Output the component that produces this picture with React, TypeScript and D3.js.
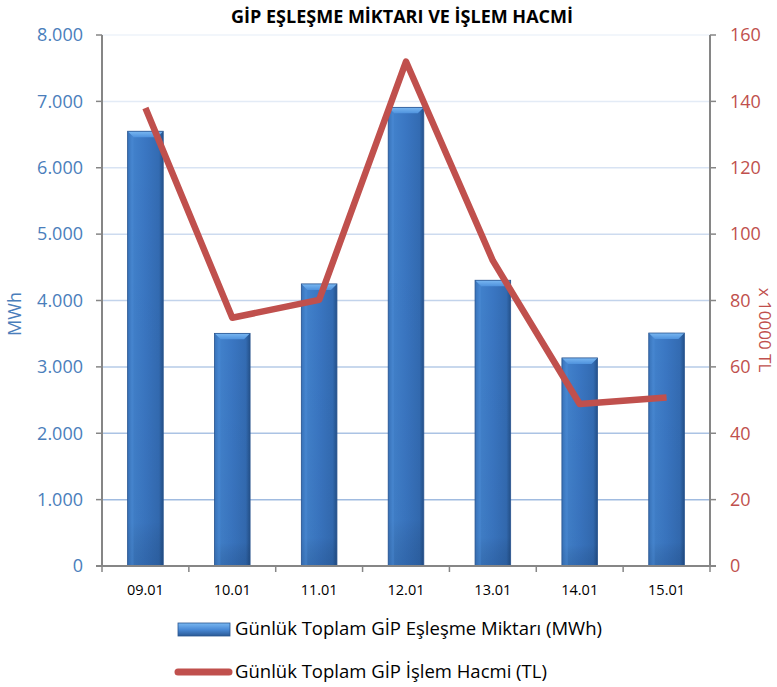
import React from "react";
import * as d3 from "d3";

const categories = ["09.01", "10.01", "11.01", "12.01", "13.01", "14.01", "15.01"];
const matchedMWh = [6550, 3505, 4250, 6910, 4305, 3135, 3510];
const volumeTL = [138, 74.8, 80.2, 152, 92, 48.8, 50.8];
const leftTicks = [0, 1000, 2000, 3000, 4000, 5000, 6000, 7000, 8000];
const rightTicks = [0, 20, 40, 60, 80, 100, 120, 140, 160];
const title = "GİP EŞLEŞME MİKTARI VE İŞLEM HACMİ";
const legendBar = "Günlük Toplam GİP Eşleşme Miktarı (MWh)";
const legendLine = "Günlük Toplam GİP İşlem Hacmi (TL)";

const W = 777, H = 687;
const left = 102, right = 710, top = 35, bottom = 566;
const FONT = "'Open Sans', Lato, sans-serif";
const BLUE_TXT = "#4a7ebb";
const RED = "#c0504d";
const AXIS = "#868686";

export default function App() {
  const x = d3.scaleBand<string>().domain(categories).range([left, right]).paddingInner(0.59).paddingOuter(0.295);
  const xc = d3.scaleBand<string>().domain(categories).range([left, right]);
  const yL = d3.scaleLinear().domain([0, 8000]).range([bottom, top]);
  const yR = d3.scaleLinear().domain([0, 160]).range([bottom, top]);
  const fmt = (v: number) => (v === 0 ? "0" : d3.format(",")(v).replace(/,/g, "."));
  const line = d3.line<number>().x((_, i) => xc(categories[i])! + xc.bandwidth() / 2).y((d) => yR(d));
  const gridColor = d3.interpolateRgb("#eef3fa", "#95b3dc");
  const bw = x.bandwidth();
  const bev = 6;

  return (
    <svg width={W} height={H} style={{ position: "absolute", left: 0, top: 0, background: "#fff" }}>
      <defs>
        <linearGradient id="barBody" x1="0" x2="1" y1="0" y2="0">
          <stop offset="0" stopColor="#2d64a8" />
          <stop offset="0.12" stopColor="#4282cc" />
          <stop offset="0.5" stopColor="#3a76c2" />
          <stop offset="0.88" stopColor="#336bb2" />
          <stop offset="1" stopColor="#24518a" />
        </linearGradient>
        <linearGradient id="barTop" x1="0" x2="0" y1="0" y2="1">
          <stop offset="0" stopColor="#7ab8f2" />
          <stop offset="1" stopColor="#4f92dd" />
        </linearGradient>
        <linearGradient id="barShade" x1="0" x2="0" y1="0" y2="1">
          <stop offset="0" stopColor="#000" stopOpacity="0" />
          <stop offset="0.9" stopColor="#000" stopOpacity="0.03" />
          <stop offset="1" stopColor="#0b2a55" stopOpacity="0.2" />
        </linearGradient>
        <linearGradient id="legBar" x1="0" x2="0" y1="0" y2="1">
          <stop offset="0" stopColor="#7ab8f2" />
          <stop offset="0.5" stopColor="#4a8ad6" />
          <stop offset="1" stopColor="#2a5a96" />
        </linearGradient>
      </defs>

      <text x={402} y={23} textAnchor="middle" fontFamily={FONT} fontWeight="bold" fontSize={18} fill="#000">
        {title}
      </text>

      {leftTicks.slice(1).map((t) => (
        <line key={"g" + t} x1={left} x2={right} y1={yL(t)} y2={yL(t)} stroke={gridColor(1 - t / 8000)} strokeWidth={1.5} />
      ))}

      {categories.map((c, i) => {
        const x0 = x(c)!;
        const y0 = yL(matchedMWh[i]);
        const h = bottom - y0;
        return (
          <g key={c}>
            <rect x={x0} y={y0} width={bw} height={h} fill="url(#barBody)" />
            <rect x={x0} y={y0} width={bw} height={h} fill="url(#barShade)" />
            <polygon
              points={`${x0},${y0} ${x0 + bw},${y0} ${x0 + bw - bev},${y0 + bev} ${x0 + bev},${y0 + bev}`}
              fill="url(#barTop)"
            />
            <polygon
              points={`${x0},${y0} ${x0 + bev},${y0 + bev} ${x0 + bev},${bottom} ${x0},${bottom}`}
              fill="#4d8cd8"
              opacity={0.35}
            />
            <rect x={x0} y={y0} width={bw} height={h} fill="none" stroke="#2a5590" strokeWidth={0.8} />
          </g>
        );
      })}

      <path d={line(volumeTL) || ""} fill="none" stroke={RED} strokeWidth={6.5} strokeLinejoin="round" strokeLinecap="butt" />

      {/* axes */}
      <line x1={left} x2={left} y1={top} y2={bottom} stroke={AXIS} strokeWidth={2} />
      <line x1={right} x2={right} y1={top} y2={bottom} stroke={AXIS} strokeWidth={2} />
      <line x1={left - 6} x2={right + 6} y1={bottom} y2={bottom} stroke={AXIS} strokeWidth={2} />
      {leftTicks.map((t) => (
        <g key={"l" + t}>
          <line x1={left - 6} x2={left} y1={yL(t)} y2={yL(t)} stroke={AXIS} strokeWidth={1.5} />
          <text x={83} y={yL(t)} dy="0.35em" textAnchor="end" fontFamily={FONT} fontSize={18} fill={BLUE_TXT}>
            {fmt(t)}
          </text>
        </g>
      ))}
      {rightTicks.map((t) => (
        <g key={"r" + t}>
          <line x1={right} x2={right + 6} y1={yR(t)} y2={yR(t)} stroke={AXIS} strokeWidth={1.5} />
          <text x={730} y={yR(t)} dy="0.35em" textAnchor="start" fontFamily={FONT} fontSize={18} fill={RED}>
            {t}
          </text>
        </g>
      ))}
      {categories.map((c, i) => (
        <g key={"x" + c}>
          <line x1={xc(c)!} x2={xc(c)!} y1={bottom} y2={bottom + 6} stroke={AXIS} strokeWidth={1.5} />
          <text x={xc(c)! + xc.bandwidth() / 2} y={590} dy="0.35em" textAnchor="middle" fontFamily={FONT} fontSize={14.5} fill="#000">
            {c}
          </text>
        </g>
      ))}
      <line x1={right} x2={right} y1={bottom} y2={bottom + 6} stroke={AXIS} strokeWidth={1.5} />

      <text transform={`translate(15,314) rotate(-90)`} textAnchor="middle" dy="0.35em" fontFamily={FONT} fontSize={18} fill={BLUE_TXT}>
        MWh
      </text>
      <text transform={`translate(765,330) rotate(90)`} textAnchor="middle" dy="0.35em" fontFamily={FONT} fontSize={17} fill={RED}>
        x 10000 TL
      </text>

      {/* legend */}
      <rect x={178} y={623} width={52} height={13} fill="url(#legBar)" stroke="#2a5590" strokeWidth={0.8} />
      <text x={235} y={629} dy="0.35em" fontFamily={FONT} fontSize={18.5} fill="#000">
        {legendBar}
      </text>
      <line x1={178} x2={229} y1={672} y2={672} stroke={RED} strokeWidth={7} strokeLinecap="round" />
      <text x={235} y={672} dy="0.35em" fontFamily={FONT} fontSize={18.5} fill="#000">
        {legendLine}
      </text>
    </svg>
  );
}
